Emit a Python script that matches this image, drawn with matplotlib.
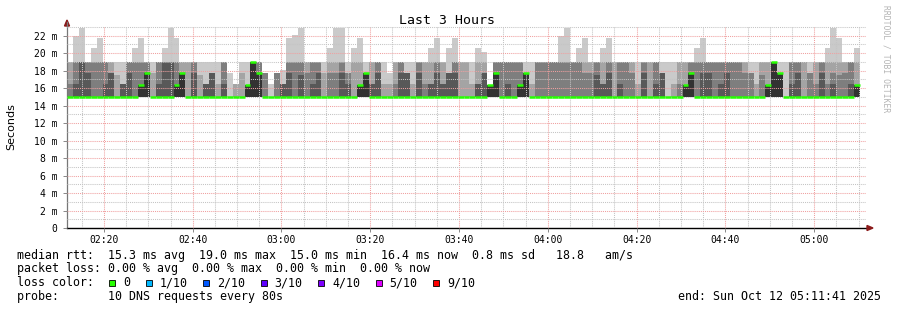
import datetime as dt
import matplotlib
matplotlib.use("Agg")
import matplotlib.pyplot as plt
import matplotlib.dates as mdates
from matplotlib.ticker import MultipleLocator, FuncFormatter
from matplotlib.patches import Rectangle, Polygon
from matplotlib.lines import Line2D

W, H = 897, 310

start = dt.datetime(2025, 10, 12, 2, 11, 41)
end = dt.datetime(2025, 10, 12, 5, 11, 41)
step_s = 80  # one probe round every 80s

# smoke layers per 80s step (ms): outermost ping pair down to the median
ping_max = [19, 22.0, 22.9, 19, 20.6, 21.7, 19, 19, 19, 19, 19, 20.6, 21.7, 19, 19, 19, 20.6, 22.9, 21.7, 19,
            19, 19, 19, 19, 19, 19, 19, 17.7, 16.5, 19, 19, 19, 19, 17.7, 16.5, 17.7, 18.1, 21.7, 22.1, 22.9,
            19, 19, 19, 19, 20.6, 22.9, 22.9, 19, 20.6, 21.7, 19, 19, 19, 19, 17.7, 19, 19, 19, 19, 19,
            19, 20.6, 21.7, 19, 20.6, 21.7, 19, 19, 19, 20.6, 20.1, 16.4, 19, 19, 19, 19, 19, 19, 19, 19,
            19, 19, 19, 22.0, 22.9, 19, 20.6, 21.7, 19, 19, 20.6, 21.7, 19, 19, 19, 19, 19, 19, 19, 19,
            19, 19, 19, 19, 19, 19, 20.6, 21.7, 19, 19, 19, 19, 19, 19, 19, 19, 19, 19, 19, 19,
            19, 19, 19, 19, 19, 19, 19, 19, 20.6, 22.9, 21.7, 19, 19, 20.6]
ping_hi2 = [19, 19, 19, 19, 19, 19, 19, 19, 17.5, 16.5, 19, 19, 19, 19, 17.7, 19, 19, 19, 19, 19,
            19, 19, 17.5, 16.5, 17.7, 16.5, 19, 15, 16.5, 17.7, 16.4, 19, 19, 17.7, 15, 17.7, 16.5, 19, 19, 19,
            19, 19, 19, 17.7, 19, 19, 19, 17.7, 19, 19, 17.7, 19, 19, 16.5, 16.5, 19, 19, 17.7, 16.5, 19,
            19, 19, 19, 19, 17.7, 19, 19, 19, 16.5, 19, 19, 16.4, 19, 19, 19, 19, 19, 17.7, 16.5, 19,
            19, 19, 19, 19, 19, 19, 19, 19, 19, 19, 19, 19, 19, 19, 19, 19, 16.5, 19, 19, 19,
            17.7, 15, 16.5, 19, 19, 19, 19, 19, 19, 19, 19, 19, 19, 19, 19, 17.7, 16.5, 19, 19, 19,
            17.7, 15, 19, 19, 19, 17.7, 19, 19, 19, 19, 19, 19, 19, 19]
ping_hi3 = [16.5, 19, 19, 19, 19, 19, 19, 17.7, 15, 16.5, 19, 19, 19, 19, 15, 19, 19, 19, 19, 17.7,
            15, 19, 15, 16.5, 17.7, 15, 19, 15, 15, 15, 16.4, 19, 19, 17.7, 15, 17.7, 16.5, 19, 19, 19,
            17.7, 19, 19, 15, 17.7, 17.7, 19, 17.7, 15, 16.4, 17.7, 16.5, 19, 15, 15, 16.5, 19, 17.7, 15, 19,
            16.5, 16.5, 19, 16.5, 17.7, 19, 15, 15, 15, 16.5, 17.7, 16.4, 19, 19, 19, 19, 19, 17.7, 15, 19,
            19, 19, 19, 19, 19, 19, 19, 17.7, 17.7, 19, 16.5, 19, 15, 19, 19, 17.7, 15, 19, 15, 19,
            17.7, 15, 15, 16.5, 16.4, 19, 19, 19, 19, 19, 19, 19, 19, 19, 17.7, 17.7, 15, 17.5, 16.4, 19,
            17.7, 15, 19, 19, 15, 17.7, 16.5, 19, 16.5, 17.7, 17.5, 17.7, 19, 16.4]
ping_hi4 = [15, 16.5, 19, 17.7, 15, 15, 16.5, 17.7, 15, 16.5, 17.7, 15, 16.4, 17.7, 15, 16.5, 19, 19, 16.4, 17.7,
            15, 17.7, 15, 16.5, 17.7, 15, 16.5, 15, 15, 15, 16.4, 19, 17.7, 15, 15, 15, 16.5, 17.7, 15, 17.5,
            15, 16.5, 17.7, 15, 15, 15, 17.7, 16.5, 15, 16.4, 17.7, 16.5, 17.7, 15, 15, 15, 17.7, 17.7, 15, 17.7,
            15, 16.5, 17.7, 16.5, 17.7, 17.7, 15, 15, 15, 16.5, 17.7, 16.4, 17.7, 15, 16.5, 15, 16.4, 17.7, 15, 15,
            15, 15, 15, 15, 15, 15, 15, 15, 15, 17.5, 16.5, 17.7, 15, 16.5, 15, 15, 15, 17.7, 15, 16.5,
            17.7, 15, 15, 15, 16.4, 17.7, 15, 17.7, 17.7, 15, 16.5, 17.7, 15, 15, 15, 15, 15, 15, 16.4, 19,
            17.7, 15, 16.5, 17.7, 15, 15, 15, 17.7, 15, 16.5, 15, 15, 16.5, 16.4]
median_rtt = [15, 15, 15, 15, 15, 15, 15, 15, 15, 15, 15, 15, 16.4, 17.7, 15, 15, 15, 15, 16.4, 17.7,
              15, 15, 15, 15, 15, 15, 15, 15, 15, 15, 16.4, 19, 17.7, 15, 15, 15, 15, 15, 15, 15,
              15, 15, 15, 15, 15, 15, 15, 15, 15, 16.4, 17.7, 15, 15, 15, 15, 15, 15, 15, 15, 15,
              15, 15, 15, 15, 15, 15, 15, 15, 15, 15, 15, 16.4, 17.7, 15, 15, 15, 16.4, 17.7, 15, 15,
              15, 15, 15, 15, 15, 15, 15, 15, 15, 15, 15, 15, 15, 15, 15, 15, 15, 15, 15, 15,
              15, 15, 15, 15, 16.4, 17.7, 15, 15, 15, 15, 15, 15, 15, 15, 15, 15, 15, 15, 16.4, 19,
              17.7, 15, 15, 15, 15, 15, 15, 15, 15, 15, 15, 15, 15, 16.4]

smoke_colors = ["#cacaca", "#a4a4a4", "#7e7e7e", "#585858", "#323232"]
loss_labels = ["0", "1/10", "2/10", "3/10", "4/10", "5/10", "9/10"]
loss_colors = ["#26ff00", "#00b8ff", "#0059ff", "#5e00ff", "#7e00ff", "#dd00ff", "#ff0000"]

legend_lines = [
    "median rtt:  15.3 ms avg  19.0 ms max  15.0 ms min  16.4 ms now  0.8 ms sd   18.8   am/s",
    "packet loss: 0.00 % avg  0.00 % max  0.00 % min  0.00 % now",
]
probe_text = "probe:       10 DNS requests every 80s"
end_text = "end: Sun Oct 12 05:11:41 2025"

MONO = "DejaVu Sans Mono"


def fx(x):
    return x / W


def fy(y):
    return 1 - y / H


edges = mdates.date2num([start + dt.timedelta(seconds=step_s * i) for i in range(len(ping_max) + 1)])

fig = plt.figure(figsize=(W / 100, H / 100), dpi=100)
ax = fig.add_axes([fx(67), fy(228), (866 - 67) / W, (228 - 26) / H])

for vals, col in zip([ping_max, ping_hi2, ping_hi3, ping_hi4, median_rtt], smoke_colors):
    ax.stairs(vals, edges, baseline=15.0, fill=True, color=col, lw=0, zorder=2)
ax.hlines(median_rtt, edges[:-1], edges[1:], color=loss_colors[0], lw=1.8, zorder=4)

ax.set_xlim(mdates.date2num(start), mdates.date2num(end))
ax.set_ylim(0, 23.1)
ax.xaxis_date()
ax.xaxis.set_major_locator(mdates.MinuteLocator(byminute=[0, 20, 40]))
ax.xaxis.set_minor_locator(mdates.MinuteLocator(byminute=range(0, 60, 5)))
ax.xaxis.set_major_formatter(mdates.DateFormatter("%H:%M"))
ax.yaxis.set_major_locator(MultipleLocator(2))
ax.yaxis.set_minor_locator(MultipleLocator(1))
ax.yaxis.set_major_formatter(FuncFormatter(lambda v, p: "0" if v == 0 else f"{v:.0f} m"))

ax.set_axisbelow(False)
ax.grid(which="major", color="#f0a0a0", ls=(0, (1, 1)), lw=0.75)
ax.grid(which="minor", color="#c4c4c4", ls=(0, (1, 1)), lw=0.75)

ax.tick_params(which="both", labelsize=7, colors="#888888", labelcolor="black", width=0.7)
ax.tick_params(which="major", length=3)
ax.tick_params(axis="x", which="major", pad=2)
ax.tick_params(axis="y", which="major", pad=4)
ax.tick_params(which="minor", length=0)
for lab in ax.get_xticklabels() + ax.get_yticklabels():
    lab.set_family(MONO)

for s in ["top", "right"]:
    ax.spines[s].set_visible(False)
ax.spines["left"].set_color("#777777")
ax.spines["left"].set_linewidth(0.9)
ax.spines["bottom"].set_color("black")
ax.spines["bottom"].set_linewidth(1.0)

# axis arrows like rrdtool
fig.add_artist(Polygon([(fx(64.5), fy(26)), (fx(69.5), fy(26)), (fx(67), fy(20))],
                       closed=True, color="#8b1a1a", transform=fig.transFigure))
fig.add_artist(Line2D([fx(67), fx(67)], [fy(26), fy(22)], color="#777777", lw=0.9,
                      transform=fig.transFigure))
fig.add_artist(Polygon([(fx(867), fy(225.5)), (fx(867), fy(230.5)), (fx(873), fy(228))],
                       closed=True, color="#8b1a1a", transform=fig.transFigure))

fig.text(fx(447), fy(20), "Last 3 Hours", ha="center", va="center", family=MONO, size=9.5)
fig.text(fx(11), fy(127), "Seconds", rotation=90, ha="center", va="center",
         family="DejaVu Sans", size=8)
fig.text(fx(886), fy(59), "RRDTOOL / TOBI OETIKER", rotation=270, ha="center", va="center",
         family=MONO, size=5.8, color="#b4b4b4")

for txt, y in zip(legend_lines, [255, 268.5]):
    fig.text(fx(16.7), fy(y), txt, ha="left", va="center", family=MONO, size=8.4)

fig.text(fx(16.7), fy(282.5), "loss color:", ha="left", va="center", family=MONO, size=8.4)
x = 109
for lab, col in zip(loss_labels, loss_colors):
    fig.add_artist(Rectangle((fx(x), fy(286)), 6 / W, 6.5 / H, facecolor=col, edgecolor="black",
                             lw=0.6, transform=fig.transFigure))
    fig.text(fx(x + 14), fy(282.5), lab, ha="left", va="center", family=MONO, size=8.4)
    x += 14 + 7 * len(lab) + 15.5

fig.text(fx(16.7), fy(296.5), probe_text, ha="left", va="center", family=MONO, size=8.4)
fig.text(fx(880.5), fy(296.5), end_text, ha="right", va="center", family=MONO, size=8.4)

fig.savefig("out.png", dpi=100)
